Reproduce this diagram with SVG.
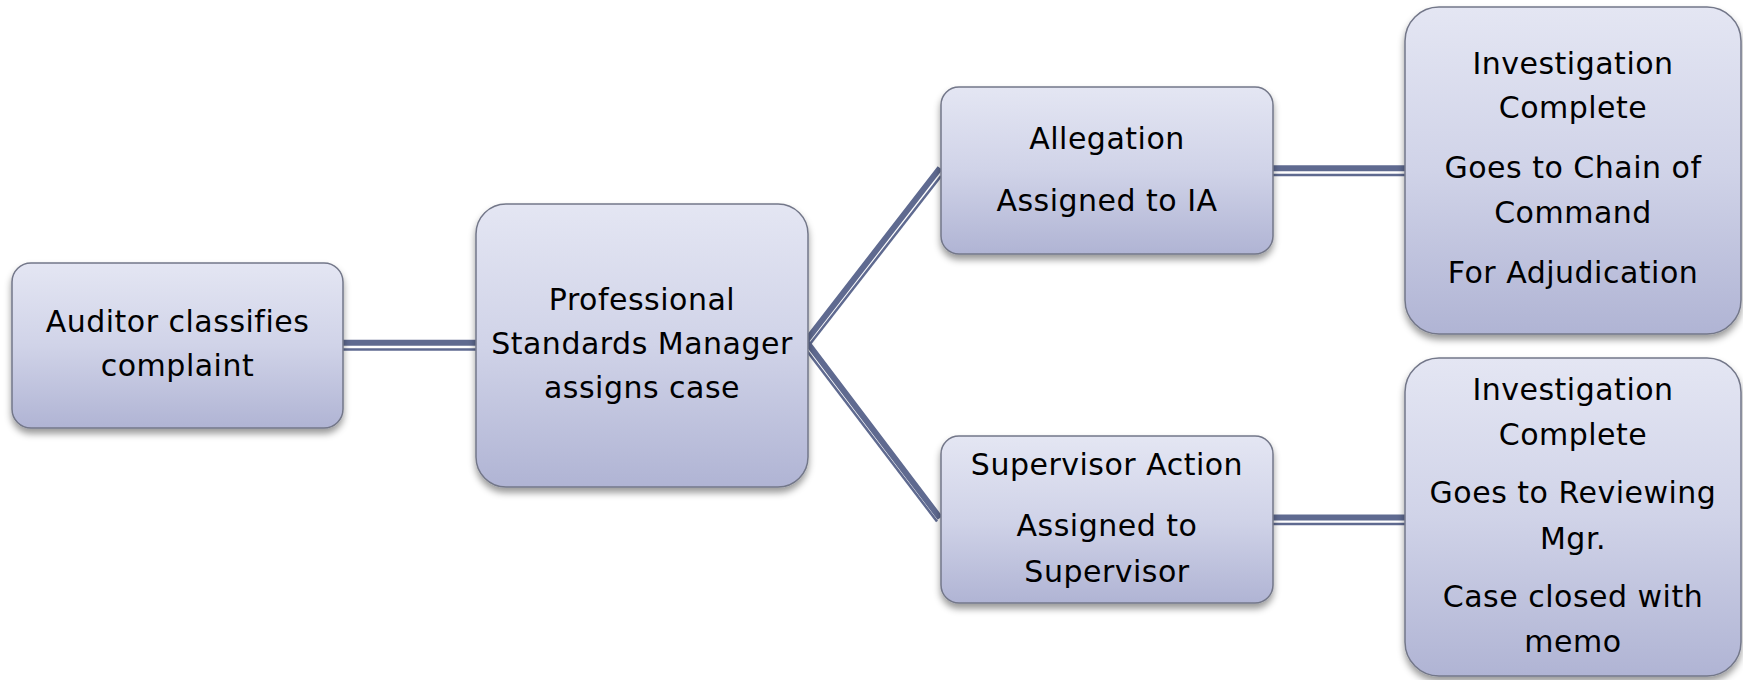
<svg xmlns="http://www.w3.org/2000/svg" width="1743" height="680" viewBox="0 0 1743 680">
<style>
.box{fill:url(#g);stroke:#737789;stroke-width:1.5;filter:url(#sh)}
.t{font-family:"DejaVu Sans",Verdana,sans-serif;font-size:30px;fill:#000;text-anchor:middle;letter-spacing:0.5px}
.thick{stroke:#5f6a90;stroke-width:6;fill:none}
.thin{stroke:#5f6a90;stroke-width:2.5;fill:none}
</style>
<defs>
<linearGradient id="g" x1="0" y1="0" x2="0" y2="1">
<stop offset="0" stop-color="#e4e6f3"/>
<stop offset="0.5" stop-color="#d0d3e8"/>
<stop offset="1" stop-color="#b0b4d4"/>
</linearGradient>
<filter id="sh" x="-10%" y="-10%" width="120%" height="130%">
<feDropShadow dx="0" dy="5" stdDeviation="3.5" flood-color="#000" flood-opacity="0.4"/>
</filter>
</defs>
<g id="connectors">
<line class="thick" x1="343" y1="342.7" x2="476" y2="342.7"/>
<line class="thin" x1="343" y1="349.5" x2="476" y2="349.5"/>
<polyline class="thick" points="940,168 806,341 940,518"/>
<line class="thin" x1="810" y1="344" x2="941" y2="176"/>
<line class="thin" x1="804" y1="347" x2="937" y2="521.5"/>
<line class="thick" x1="1273" y1="168.3" x2="1405" y2="168.3"/>
<line class="thin" x1="1273" y1="175" x2="1405" y2="175"/>
<line class="thick" x1="1273" y1="517.5" x2="1405" y2="517.5"/>
<line class="thin" x1="1273" y1="524" x2="1405" y2="524"/>
</g>
<g id="n1">
<rect class="box" x="12" y="263" width="331" height="165" rx="19"/>
<text class="t" x="177.5" y="332">Auditor classifies</text>
<text class="t" x="177.5" y="376">complaint</text>
</g>
<g id="n2">
<rect class="box" x="476" y="204" width="332" height="283" rx="30"/>
<text class="t" x="642" y="310">Professional</text>
<text class="t" x="642" y="354">Standards Manager</text>
<text class="t" x="642" y="398">assigns case</text>
</g>
<g id="n3">
<rect class="box" x="941" y="87" width="332" height="167" rx="18"/>
<text class="t" x="1107" y="149">Allegation</text>
<text class="t" x="1107" y="211">Assigned to IA</text>
</g>
<g id="n4">
<rect class="box" x="941" y="436" width="332" height="167" rx="18"/>
<text class="t" x="1107" y="475">Supervisor Action</text>
<text class="t" x="1107" y="536">Assigned to</text>
<text class="t" x="1107" y="582">Supervisor</text>
</g>
<g id="n5">
<rect class="box" x="1405" y="7" width="336" height="327" rx="34"/>
<text class="t" x="1573" y="74">Investigation</text>
<text class="t" x="1573" y="118">Complete</text>
<text class="t" x="1573" y="178">Goes to Chain of</text>
<text class="t" x="1573" y="223">Command</text>
<text class="t" x="1573" y="283">For Adjudication</text>
</g>
<g id="n6">
<rect class="box" x="1405" y="358" width="336" height="318" rx="34"/>
<text class="t" x="1573" y="400">Investigation</text>
<text class="t" x="1573" y="445">Complete</text>
<text class="t" x="1573" y="503">Goes to Reviewing</text>
<text class="t" x="1573" y="549">Mgr.</text>
<text class="t" x="1573" y="607">Case closed with</text>
<text class="t" x="1573" y="652">memo</text>
</g>
</svg>
